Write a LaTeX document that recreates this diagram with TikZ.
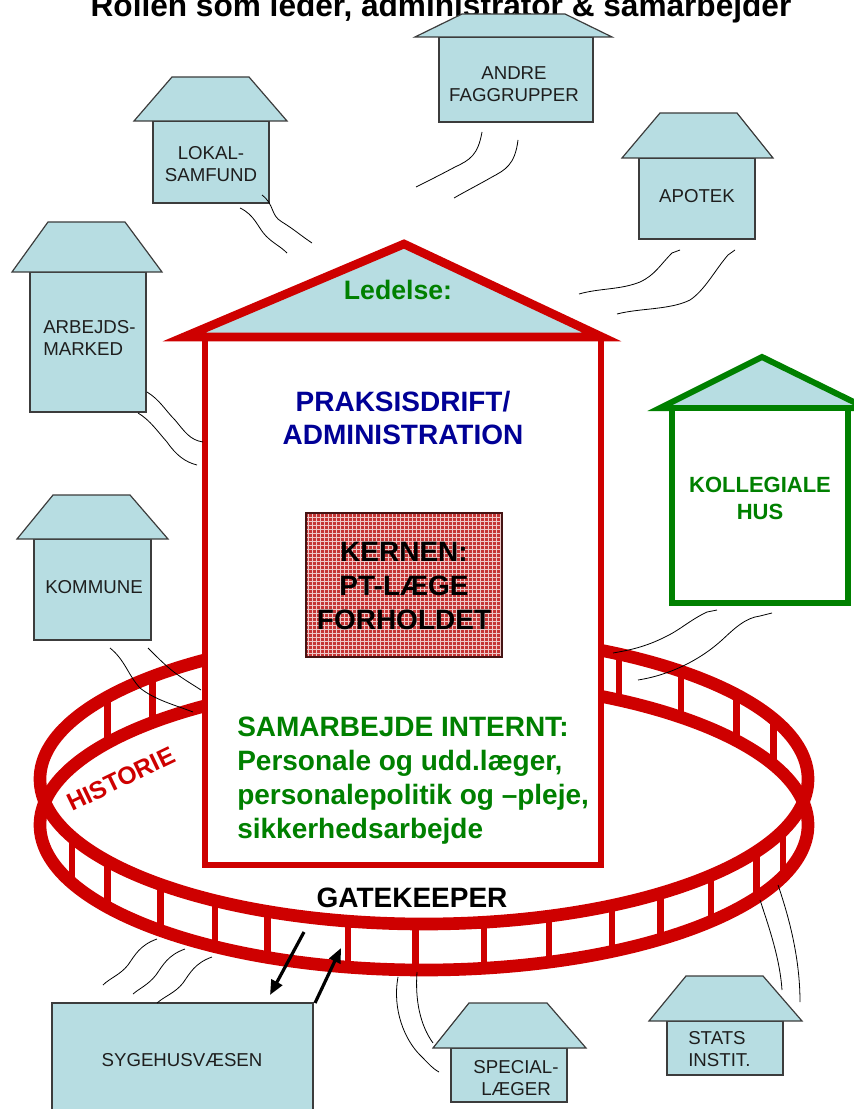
\documentclass[tikz,border=0pt]{standalone}
\usepackage{fontspec}
\setmainfont{Liberation Sans}
\usetikzlibrary{arrows.meta,patterns}

\definecolor{roofblue}{RGB}{183,221,226}
\definecolor{housered}{RGB}{206,0,0}
\definecolor{collgreen}{RGB}{0,128,0}
\definecolor{praxblue}{RGB}{0,0,150}
\definecolor{kernred}{RGB}{196,52,52}
\definecolor{outline}{RGB}{60,60,60}

\begin{document}
\begin{tikzpicture}[x=0.75pt,y=0.75pt,yscale=-1,xscale=1,
	smallhouse/.style={draw=outline, fill=roofblue, line width=0.9pt},
	houselabel/.style={inner sep=0.75pt, text={rgb,255:red,30;green,30;blue,30}, font=\fontsize{14}{16.5}\selectfont},
	rail/.style={draw=housered, line width=9.5pt},
	fencepost/.style={draw=housered, line width=5pt},
	cord/.style={draw=black, line width=0.6pt},
	arrowline/.style={draw=black, line width=2.4pt, -{Triangle[length=11pt,width=9pt]}}]
	\useasboundingbox (0,0) rectangle (853,1109);
	
	% Text Node
	\draw (441,17) node (title) [anchor=base][inner sep=0pt]  {\bfseries\fontsize{23.7}{28}\selectfont Rollen som leder, administrator \& samarbejder};
	
	%Shape: Fence, back posts
	\foreach \a in {24.5,35.5,48,59.5,135,145.6}
	\draw [fencepost] ({424+384*cos(\a)},{779-145*sin(\a)}) -- ++(0,46) ;
	%Shape: Fence, rails
	\draw [rail] (424,779) ellipse (384 and 145) ;
	\draw [rail] (424,825) ellipse (384 and 145) ;
	%Shape: Fence, front posts
	\foreach \a in {203.6,214.4,226.6,237,246,258.6,268.7,279,289,299.3,308,318.4,329.9,339.2}
	\draw [fencepost] ({424+384*cos(\a)},{779-145*sin(\a)}) -- ++(0,46) ;
	
	%Shape: Main house walls
	\draw [draw=housered, line width=5pt, fill=white] (205,337) rectangle (601,865) ;
	%Shape: Main house roof
	\draw [draw=housered, line width=6.5pt, fill=roofblue, line join=miter, miter limit=12] (404,244) -- (602,337) -- (184,337) -- cycle ;
	
	%Shape: Kernen
	\fill [kernred] (306,513) rectangle (502,657) ;
	\fill [pattern=grid, pattern color={rgb,255:red,238;green,200;blue,200}] (306,513) rectangle (502,657) ;
	\draw [draw={rgb,255:red,70;green,20;blue,20}, line width=0.8pt] (306,513) rectangle (502,657) ;
	
	%Shape: Kollegiale hus
	\draw [draw=collgreen, line width=4.5pt, fill=roofblue, line join=miter, miter limit=12] (762,357) -- (866,408) -- (660,408) -- cycle ;
	\draw [draw=collgreen, line width=4.5pt, fill=white] (672,408) rectangle (848,603) ;
	
	%Shape: Andre faggrupper
	\draw [smallhouse] (439,37) rectangle (593,122) ;
	\draw [smallhouse] (462,14) -- (565,14) -- (612,37) -- (415,37) -- cycle ;
	%Shape: Lokalsamfund
	\draw [smallhouse] (153,121) rectangle (269,203) ;
	\draw [smallhouse] (172,77) -- (249,77) -- (287,121) -- (134,121) -- cycle ;
	%Shape: Apotek
	\draw [smallhouse] (639,158) rectangle (755,239) ;
	\draw [smallhouse] (660,113) -- (737,113) -- (773,158) -- (622,158) -- cycle ;
	%Shape: Arbejdsmarked
	\draw [smallhouse] (30,272) rectangle (146,412) ;
	\draw [smallhouse] (48,222) -- (125,222) -- (162,272) -- (12,272) -- cycle ;
	%Shape: Kommune
	\draw [smallhouse] (34,539) rectangle (151,640) ;
	\draw [smallhouse] (53,495) -- (130,495) -- (168,539) -- (17,539) -- cycle ;
	%Shape: Sygehusvaesen
	\draw [smallhouse] (52,1003) rectangle (313,1120) ;
	%Shape: Speciallaeger
	\draw [smallhouse] (451,1048) rectangle (567,1102) ;
	\draw [smallhouse] (469,1003) -- (547,1003) -- (586,1048) -- (433,1048) -- cycle ;
	%Shape: Stats instit.
	\draw [smallhouse] (667,1021) rectangle (783,1075) ;
	\draw [smallhouse] (686,976) -- (763,976) -- (802,1021) -- (649,1021) -- cycle ;
	
	%Curve Lines: cords
	\draw [cord] (262,195) .. controls (275,205) and (270,215) .. (282,222) .. controls (295,230) and (300,235) .. (312,243) ;
	\draw [cord] (240,208) .. controls (255,215) and (258,228) .. (266,236) .. controls (274,244) and (280,246) .. (287,253) ;
	\draw [cord] (482,132) .. controls (478,155) and (470,160) .. (455,167) .. controls (440,175) and (430,180) .. (416,187) ;
	\draw [cord] (518,140) .. controls (515,165) and (505,170) .. (492,177) .. controls (478,185) and (468,190) .. (454,198) ;
	\draw [cord] (680,250) -- (672,253) .. controls (660,265) and (655,275) .. (640,282) .. controls (620,290) and (600,288) .. (579,294) ;
	\draw [cord] (735,250) -- (728,255) .. controls (715,270) and (705,290) .. (690,300) .. controls (670,310) and (640,308) .. (617,314) ;
	\draw [cord] (147,392) .. controls (160,400) and (165,410) .. (175,420) .. controls (185,432) and (190,440) .. (203,442) ;
	\draw [cord] (138,413) .. controls (150,420) and (158,432) .. (167,442) .. controls (176,455) and (185,462) .. (197,465) ;
	\draw [cord] (110,648) .. controls (125,660) and (128,675) .. (140,688) .. controls (155,700) and (175,705) .. (193,712) ;
	\draw [cord] (148,648) .. controls (160,660) and (168,668) .. (178,675) .. controls (188,682) and (195,686) .. (201,690) ;
	\draw [cord] (717,610) -- (707,612) .. controls (690,620) and (680,630) .. (665,637) .. controls (645,647) and (630,650) .. (613,653) ;
	\draw [cord] (772,613) -- (760,616) .. controls (745,618) and (735,628) .. (722,640) .. controls (700,660) and (670,675) .. (638,680) ;
	\draw [cord] (760,900) .. controls (770,930) and (780,960) .. (782,990) ;
	\draw [cord] (778,885) .. controls (790,920) and (800,960) .. (800,1002) ;
	\draw [cord] (398,977) .. controls (392,1010) and (405,1040) .. (420,1055) .. controls (430,1065) and (432,1068) .. (439,1072) ;
	\draw [cord] (417,972) .. controls (415,1000) and (420,1025) .. (433,1043) ;
	\draw [cord] (157,939) .. controls (140,945) and (135,955) .. (128,965) .. controls (120,975) and (110,978) .. (103,985) ;
	\draw [cord] (185,949) .. controls (168,955) and (163,965) .. (156,975) .. controls (148,985) and (140,988) .. (133,994) ;
	\draw [cord] (212,957) .. controls (195,963) and (190,973) .. (183,983) .. controls (175,993) and (165,996) .. (157,1003) ;
	
	%Straight Lines: gatekeeper arrows
	\coordinate (gateOut) at (304,932) ;
	\coordinate (sygIn) at (270,995) ;
	\coordinate (sygOut) at (315,1003) ;
	\coordinate (gateIn) at (341,948) ;
	\draw [arrowline] (gateOut) -- (sygIn) ;
	\draw [arrowline] (sygOut) -- (gateIn) ;
	
	% Text Node
	\draw (398,290) node (ledelse) [inner sep=0pt, text=collgreen, font=\bfseries\fontsize{20}{24}\selectfont]  {Ledelse:};
	% Text Node
	\draw (403,418) node (praksis) [inner sep=0pt, align=center, text=praxblue, font=\bfseries\fontsize{21}{24.75}\selectfont]  {PRAKSISDRIFT/\\ADMINISTRATION};
	% Text Node
	\draw (404,586) node (kernen) [inner sep=0pt, align=center, text=black, font=\bfseries\fontsize{21}{25.5}\selectfont]  {KERNEN:\\PT-LÆGE\\FORHOLDET};
	% Text Node
	\draw (237,717) node (internt) [anchor=north west][inner sep=0pt, align=left, text=collgreen, font=\bfseries\fontsize{21}{25.3}\selectfont]  {SAMARBEJDE INTERNT:\\Personale og udd.læger,\\personalepolitik og –pleje,\\sikkerhedsarbejde};
	% Text Node
	\draw (412,898) node (gatekeeper) [inner sep=0pt, text=black, font=\bfseries\fontsize{21}{24}\selectfont]  {GATEKEEPER};
	% Text Node
	\draw (121,779) node (historie) [inner sep=0pt, rotate=25.7, text=housered, font=\bfseries\fontsize{18.5}{22}\selectfont]  {HISTORIE};
	% Text Node
	\draw (760,498) node (kollegiale) [inner sep=0pt, align=center, text=collgreen, font=\bfseries\fontsize{16.5}{20.25}\selectfont]  {KOLLEGIALE\\HUS};
	
	% Text Node
	\draw (514,84) node (andre) [houselabel, align=center]  {ANDRE\\FAGGRUPPER};
	% Text Node
	\draw (211,164) node (lokal) [houselabel, align=center]  {LOKAL-\\SAMFUND};
	% Text Node
	\draw (697,196) node (apotek) [houselabel]  {APOTEK};
	% Text Node
	\draw (42,338) node (arbejds) [anchor=west][houselabel, align=left]  {ARBEJDS-\\MARKED};
	% Text Node
	\draw (94,587) node (kommune) [houselabel]  {KOMMUNE};
	% Text Node
	\draw (182,1060) node (sygehus) [houselabel]  {SYGEHUSVÆSEN};
	% Text Node
	\draw (516,1078) node (special) [houselabel, align=center]  {SPECIAL-\\LÆGER};
	% Text Node
	\draw (687,1049) node (stats) [anchor=west][houselabel, align=left]  {STATS\\INSTIT.};
	
\end{tikzpicture}
\end{document}
